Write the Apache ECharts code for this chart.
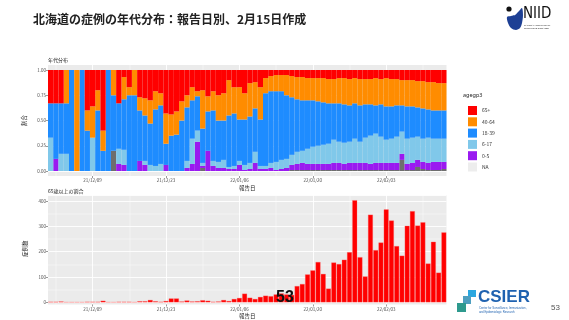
<!DOCTYPE html>
<html><head><meta charset="utf-8">
<script src="https://cdn.jsdelivr.net/npm/echarts@6/dist/echarts.min.js"></script>
<style>html,body{margin:0;padding:0;background:#fff}#c{width:569px;height:320px}</style>
</head><body><div id="c"></div>
<script>
// ---- data ----
const startDate = [2021, 11, 1];   // 2021-12-01
const dayCount = 76;
const majorTickDates = ['2021-12-09','2021-12-23','2022-01-06','2022-01-20','2022-02-03'];
const minorTickDates = ['2021-12-02','2021-12-16','2021-12-30','2022-01-13','2022-01-27','2022-02-10'];
const ageGroups = ['65+','40-64','18-39','6-17','0-5','NA'];
const ageColors = ['#FF0000','#FF8C00','#1E8CFF','#80C8EA','#9A1AF0','#6E6E6E'];

// share (%) of each age group per report day
const share65plus = [33,33,33,0,0,0,0,40,36,20,60,0,0,33,7,17,0,27,28,30,21,23,43,44,41,31,25,17,21,20,26,21,25,
  23,10,17,17,23,13,12,17,8,6,5,5,5,6,7,7,8,8,8,8,9,9,8,8,9,8,9,9,9,8,9,8,9,9,10,10,10,11,11,12,12,13,13];
const share40to64 = [0,0,0,33,0,100,0,20,31,20,20,0,25,0,22,8,25,13,17,23,18,12,30,21,23,19,12,13,5,38,15,19,25,
  27,35,26,32,26,33,26,32,15,15,16,16,20,21,22,23,22,22,23,24,24,24,25,26,26,25,26,25,25,27,25,28,27,26,25,26,26,26,27,27,28,27,27];
const share18to39 = [34,55,50,50,100,0,100,40,0,60,20,100,55,45,50,75,75,50,45,41,56,58,21,35,36,50,53,38,34,34,39,50,41,
  39,51,52,41,45,46,43,46,72,71,70,68,63,57,52,50,48,46,44,42,40,36,38,38,36,35,36,33,31,28,32,33,32,31,26,32,31,29,30,28,28,28,28];
const share6to17 = [33,0,17,17,0,0,0,0,33,0,0,0,0,15,15,0,0,0,4,6,5,7,0,0,0,0,7,25,11,3,0,5,6,
  8,2,3,4,5,6,11,3,3,5,8,9,9,10,12,12,15,17,18,19,20,23,21,21,21,24,21,25,28,29,26,23,24,26,22,25,25,23,23,25,23,23,23];
const share0to5 = [0,12,0,0,0,0,0,0,0,0,0,0,0,7,6,0,0,10,6,0,0,0,6,0,0,0,3,7,29,2,20,5,3,
  3,2,2,6,1,2,8,2,2,3,1,2,3,5,6,7,6,6,6,6,6,7,7,6,7,7,7,7,6,7,7,7,7,7,6,6,7,7,7,7,8,8,7];
const shareNA = [0,0,0,0,0,0,0,0,0,0,0,0,20,0,0,0,0,0,0,0,0,0,0,0,0,0,0,0,0,3,0,0,0,
  0,0,0,0,0,0,0,0,0,0,0,0,0,1,1,1,1,1,1,1,1,1,1,1,1,1,1,1,1,1,1,1,1,1,11,1,1,4,2,1,1,1,2];

// number of cases aged 65+ per report day
const cases65plus = [2,2,3,0,0,0,0,2,2,2,6,0,0,2,2,2,0,4,4,9,4,2,5,15,15,3,7,3,4,8,6,2,3,
  9,5,13,17,34,18,13,21,26,24,31,35,31,29,64,72,110,126,159,112,54,157,151,168,198,403,178,102,346,206,
  236,367,323,222,184,302,360,303,316,153,239,117,276];

const bottomYTicks = [0,100,200,300,400];

// ---- build ----
const dates = [];
for (let i = 0; i < dayCount; i++) {
  const d = new Date(Date.UTC(startDate[0], startDate[1], startDate[2] + i));
  dates.push(d.toISOString().slice(0, 10));
}
const shares = {'65+': share65plus, '40-64': share40to64, '18-39': share18to39, '6-17': share6to17, '0-5': share0to5, 'NA': shareNA};

const labelFont = {fontSize: 4.5, color: '#4D4D4D', fontFamily: 'Noto Sans CJK JP, sans-serif'};
const nameFont = {fontSize: 5.5, color: '#222', fontFamily: 'Noto Sans CJK JP, sans-serif'};
const isMajor = (idx, val) => majorTickDates.includes(val);
const fmtDate = v => v.slice(2).replace(/-/g, '/');
const L = 48, R = 122.5;

const bgGrid = (top, bottom) => ({left: L, right: R, top, bottom, show: true, backgroundColor: '#EBEBEB', borderWidth: 0, containLabel: false});
const plainGrid = (top, bottom) => ({left: L, right: R, top, bottom, containLabel: false});

const labeledX = (gridIndex) => ({
  type: 'category', gridIndex, data: dates,
  axisLine: {show: false},
  axisTick: {show: true, alignWithLabel: true, interval: isMajor, length: 2, lineStyle: {color: '#333', width: 0.5}},
  axisLabel: {interval: isMajor, formatter: fmtDate, margin: 2.5, ...labelFont},
  splitLine: {show: false},
  name: '報告日', nameLocation: 'middle', nameGap: 9, nameTextStyle: nameFont
});
const hiddenX = (gridIndex) => ({
  type: 'category', gridIndex, data: dates,
  axisLine: {show: false}, axisTick: {show: false}, axisLabel: {show: false}, splitLine: {show: false}
});
const hiddenY = (gridIndex) => ({type: 'value', gridIndex, show: false, min: 0, max: 1, splitLine: {show: false}});

const vLineData = majorTickDates.map(d => ({xAxis: d, lineStyle: {width: 0.9}}))
  .concat(minorTickDates.map(d => ({xAxis: d, lineStyle: {width: 0.45}})));
const vLines = (xi, yi) => ({
  type: 'line', xAxisIndex: xi, yAxisIndex: yi, data: dates.map(() => null), z: 0, zlevel: 0, silent: true,
  markLine: {silent: true, symbol: 'none', z: 0, label: {show: false}, animation: false,
    lineStyle: {color: '#fff', type: 'solid'}, data: vLineData}
});

const stackOrder = ageGroups.slice().reverse(); // NA at bottom, 65+ on top
const shareSeries = stackOrder.map(g => ({
  name: g, type: 'bar', stack: 'age', xAxisIndex: 1, yAxisIndex: 1,
  data: shares[g], barCategoryGap: '0%', barGap: '0%', z: 6,
  itemStyle: {color: ageColors[ageGroups.indexOf(g)]},
  emphasis: {disabled: true}
}));

const cjk = 'Noto Sans CJK JP, sans-serif';
const option = {
  animation: false,
  backgroundColor: '#fff',
  textStyle: {fontFamily: cjk},
  grid: [
    bgGrid(65, 320 - 176),      // 0 top panel background
    plainGrid(70, 320 - 171),   // 1 top bars
    bgGrid(195, 320 - 307),     // 2 bottom panel background
    plainGrid(195, 320 - 302.3) // 3 bottom bars
  ],
  xAxis: [labeledX(0), hiddenX(1), labeledX(2), hiddenX(3)],
  yAxis: [
    hiddenY(0),
    {type: 'value', gridIndex: 1, min: 0, max: 100, interval: 25,
      axisLine: {show: false}, axisTick: {show: true, length: 2, lineStyle: {color: '#333', width: 0.5}},
      axisLabel: {formatter: v => (v / 100).toFixed(2), margin: 2, ...labelFont},
      splitLine: {show: true, lineStyle: {color: '#fff', width: 0.9}},
      name: '割合', nameLocation: 'middle', nameGap: 13, nameRotate: 90, nameTextStyle: nameFont},
    hiddenY(2),
    {type: 'value', gridIndex: 3, min: 0, max: 424, interval: 100,
      axisLine: {show: false}, axisTick: {show: true, length: 2, lineStyle: {color: '#333', width: 0.5}},
      axisLabel: {showMaxLabel: false, margin: 2, formatter: v => bottomYTicks.includes(v) ? String(v) : '', ...labelFont},
      splitLine: {show: true, lineStyle: {color: '#fff', width: 0.9}},
      minorTick: {show: false, splitNumber: 2},
      minorSplitLine: {show: true, lineStyle: {color: '#fff', width: 0.45}},
      name: '症例数', nameLocation: 'middle', nameGap: 13, nameRotate: 90, nameTextStyle: nameFont}
  ],
  legend: {
    orient: 'vertical', left: 463, top: 101, itemWidth: 9, itemHeight: 9, itemGap: 2.3,
    icon: 'rect', selectedMode: false,
    textStyle: {fontSize: 5, color: '#333'},
    data: ageGroups.map(g => g === 'NA' ? {name: g, itemStyle: {color: '#EDEDED'}} : g)
  },
  series: [
    vLines(0, 0),
    ...shareSeries,
    vLines(2, 2),
    {name: 'cases65', type: 'bar', xAxisIndex: 3, yAxisIndex: 3, data: cases65plus,
      barCategoryGap: '8%', z: 6, clip: false,
      itemStyle: {color: '#FF0000', borderColor: '#FF6F6F', borderWidth: 0.3},
      emphasis: {disabled: true}}
  ],
  graphic: [
    {type: 'text', x: 33, y: 13, style: {text: '北海道の症例の年代分布：報告日別、2月15日作成', fontSize: 12, fontWeight: 'bold', fill: '#222', fontFamily: cjk}},
    {type: 'text', x: 48, y: 57.5, style: {text: '年代分布', fontSize: 5, fill: '#222', fontFamily: cjk}},
    {type: 'text', x: 48, y: 189, style: {text: '65歳以上の割合', fontSize: 5, fill: '#222', fontFamily: cjk}},
    {type: 'text', x: 463, y: 92, style: {text: 'agegp3', fontSize: 5.5, fill: '#222', fontFamily: 'Noto Sans, sans-serif'}},
    {type: 'text', x: 276, y: 290, z: 10, style: {text: '53', fontSize: 16, fontWeight: 'bold', fill: '#111', fontFamily: 'Liberation Sans, sans-serif'}},
    // NIID logo
    {type: 'circle', shape: {cx: 509, cy: 9, r: 2.6}, style: {fill: '#111'}},
    {type: 'polygon', shape: {points: [[507,17],[508,23],[511,28],[516,30],[520,28],[522,23],[523,15],[522,8],[519,11],[515,15],[511,16]], smooth: 0.3}, style: {fill: '#1D3F94'}},
    {type: 'text', x: 523, y: 7, style: {text: 'NIID', fontSize: 15, fill: '#111', fontFamily: 'DejaVu Sans Condensed, Liberation Sans Narrow, sans-serif'}},
    {type: 'text', x: 524, y: 24.5, style: {text: 'NATIONAL INSTITUTE OF\nINFECTIOUS DISEASES', fontSize: 2.2, lineHeight: 2.6, fill: '#333', fontFamily: 'Liberation Sans, sans-serif'}},
    // CSIER logo
    {type: 'rect', shape: {x: 468, y: 290, width: 8, height: 7}, style: {fill: '#2BA7E0'}},
    {type: 'rect', shape: {x: 463, y: 296, width: 8, height: 8}, style: {fill: '#4E9FC0'}},
    {type: 'rect', shape: {x: 457, y: 303, width: 9, height: 9}, style: {fill: '#2E9A8E'}},
    {type: 'text', x: 478, y: 289, style: {text: 'CSIER', fontSize: 17, fontWeight: 'bold', fill: '#1F62B0', fontFamily: 'Liberation Sans, sans-serif'}},
    {type: 'text', x: 479, y: 307, style: {text: 'Center for Surveillance, Immunization,\nand Epidemiologic Research', fontSize: 2.8, lineHeight: 3.4, fill: '#1F62B0', fontFamily: 'Liberation Sans, sans-serif'}},
    {type: 'text', x: 551, y: 304, style: {text: '53', fontSize: 8, fill: '#555', fontFamily: 'Liberation Sans, sans-serif'}}
  ]
};

const chart = echarts.init(document.getElementById('c'), null, {renderer: 'canvas'});
chart.setOption(option);
</script>
</body></html>
